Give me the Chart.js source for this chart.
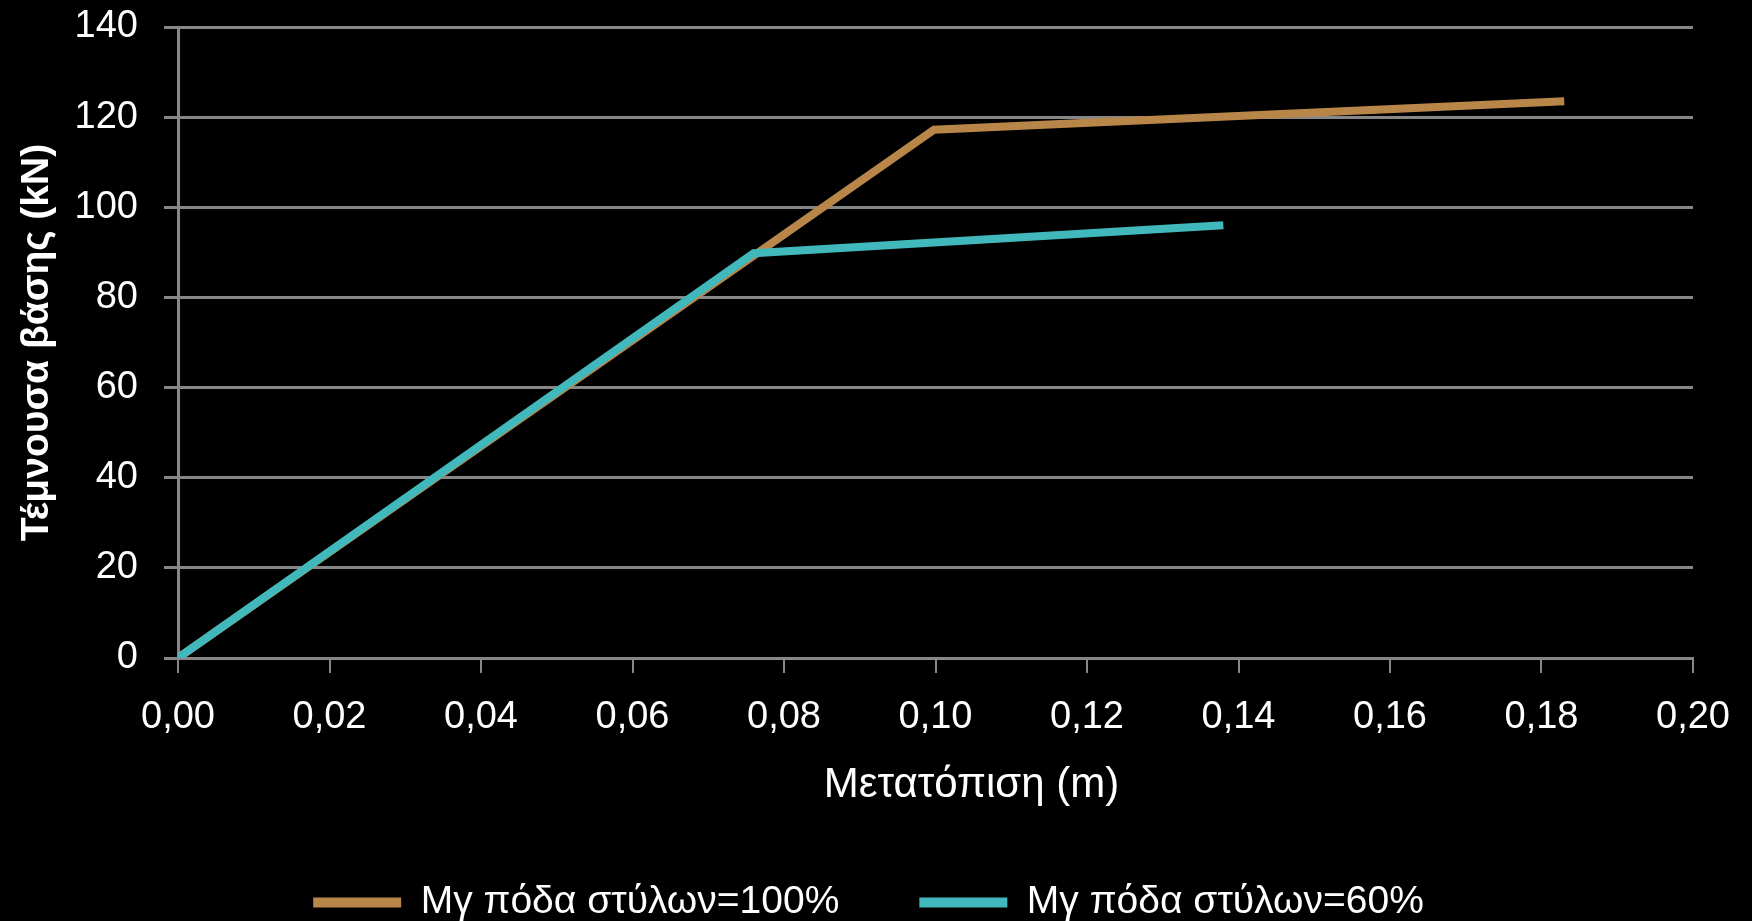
<!DOCTYPE html>
<html>
<head>
<meta charset="utf-8">
<script src="https://cdn.jsdelivr.net/npm/chart.js@4.4.1/dist/chart.umd.min.js"></script>
<style>
  html, body { margin: 0; padding: 0; background: #000; }
  #wrap { width: 1752px; height: 921px; }
</style>
</head>
<body>
<div id="wrap"><canvas id="c" width="1752" height="921"></canvas></div>
<script>
// Pushover curves: base shear vs. top displacement
const seriesNames = ['Μγ πόδα στύλων=100%', 'Μγ πόδα στύλων=60%'];
const dispFull = [0, 0.0998, 0.1830];
const shearFull = [0, 117.2, 123.5];
const dispReduced = [0, 0.0760, 0.1380];
const shearReduced = [0, 89.8, 96.0];
const xTicks = [0, 0.02, 0.04, 0.06, 0.08, 0.10, 0.12, 0.14, 0.16, 0.18, 0.20];
const yTicks = [0, 20, 40, 60, 80, 100, 120, 140];
const xTitle = 'Μετατόπιση (m)';
const yTitle = 'Τέμνουσα βάσης (kN)';

const BROWN = '#b9864a';
const TEAL = '#40b8bc';
const GRID = '#878787';
const FONT = 'Liberation Sans';
const LEGEND_GAP = 80;

const toPoints = (xs, ys) => xs.map((x, i) => ({ x, y: ys[i] }));

// Draw a box's content shifted horizontally by dx.
function shiftDraw(obj, method, dx) {
  const draw = obj[method];
  obj[method] = function (...args) {
    this.ctx.save();
    this.ctx.translate(dx, 0);
    draw.apply(this, args);
    this.ctx.restore();
  };
}

// The legend row counts a trailing gap after its last item; recentre it.
const legendCentre = {
  id: 'legendCentre',
  afterLayout(chart) {
    const lg = chart.legend;
    if (lg && !lg._recentred) {
      shiftDraw(lg, 'draw', LEGEND_GAP / 2 - 18);
      lg._recentred = true;
    }
  }
};

new Chart(document.getElementById('c'), {
  type: 'line',
  data: {
    datasets: [
      {
        label: seriesNames[0],
        data: toPoints(dispFull, shearFull),
        borderColor: BROWN,
        backgroundColor: BROWN,
        borderWidth: 8,
        pointRadius: 0,
        tension: 0,
        order: 1
      },
      {
        label: seriesNames[1],
        data: toPoints(dispReduced, shearReduced),
        borderColor: TEAL,
        backgroundColor: TEAL,
        borderWidth: 8,
        pointRadius: 0,
        tension: 0,
        order: 0
      }
    ]
  },
  plugins: [legendCentre],
  options: {
    responsive: false,
    animation: false,
    layout: { padding: { top: 27, right: 59, left: 0, bottom: -11 } },
    plugins: {
      tooltip: { enabled: false },
      legend: {
        position: 'bottom',
        labels: {
          color: '#ffffff',
          font: { family: FONT, size: 39 },
          boxWidth: 88,
          boxHeight: 10,
          padding: LEGEND_GAP,
          sort: (a, b) => a.datasetIndex - b.datasetIndex,
          generateLabels: (chart) =>
            Chart.defaults.plugins.legend.labels.generateLabels(chart)
              .map(item => Object.assign(item, { lineWidth: 0 }))
        }
      }
    },
    scales: {
      x: {
        type: 'linear',
        min: 0,
        max: 0.2,
        afterFit: (s) => {
          s.height = 145;
          s.paddingLeft = 0;
          s.paddingRight = 0;
          if (!s._shifted) { shiftDraw(s, 'drawTitle', 36); s._shifted = true; }
        },
        afterBuildTicks: (s) => { s.ticks = xTicks.map(v => ({ value: v })); },
        ticks: {
          color: '#ffffff',
          font: { family: FONT, size: 38 },
          padding: 22,
          maxRotation: 0,
          autoSkip: false,
          callback: (v) => v.toFixed(2).replace('.', ',')
        },
        grid: {
          drawOnChartArea: false,
          drawTicks: true,
          tickLength: 15,
          color: GRID,
          lineWidth: 2
        },
        border: { color: GRID, width: 3 },
        title: {
          display: true,
          text: xTitle,
          color: '#ffffff',
          font: { family: FONT, size: 42, lineHeight: 1 },
          padding: { top: 0, bottom: -3 }
        }
      },
      y: {
        type: 'linear',
        min: 0,
        max: 140,
        afterFit: (s) => {
          s.width = 178;
          s.paddingTop = 0;
          s.paddingBottom = 0;
        },
        afterBuildTicks: (s) => { s.ticks = yTicks.map(v => ({ value: v })); },
        ticks: {
          color: '#ffffff',
          font: { family: FONT, size: 38 },
          padding: 26
        },
        grid: {
          color: GRID,
          lineWidth: 3,
          tickLength: 14
        },
        border: { color: GRID, width: 3 },
        title: {
          display: true,
          text: yTitle,
          color: '#ffffff',
          font: { family: FONT, size: 39, weight: 'bold', lineHeight: 1.2 },
          padding: { top: 14, bottom: 0 }
        }
      }
    }
  }
});
</script>
</body>
</html>
